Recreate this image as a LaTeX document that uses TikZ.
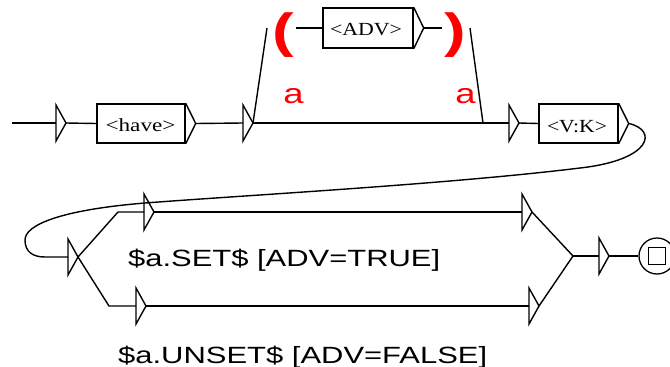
\documentclass[tikz,border=0pt]{standalone}
\usepackage{fontspec}
\usepackage{graphicx}
\newfontfamily\gserif{Liberation Serif}
\newfontfamily\gsans{Liberation Sans}
\tikzset{
  gline/.style={line width=1.4pt, draw=black, line join=miter},
  gbox/.style={draw=black, line width=1.4pt, inner sep=0pt, minimum height=39pt},
  btxt/.style={inner sep=0pt, anchor=base, font=\gserif\fontsize{18.5}{20}\selectfont},
  redtxt/.style={text=red, inner sep=0pt, anchor=base},
  sanslbl/.style={inner sep=0pt, anchor=base west, font=\gsans\fontsize{23.5}{26}\selectfont}
}
\newcommand\gtri[3]{%
  \draw[gline] (#2,#3-18) -- (#2+10,#3) -- (#2,#3+18) -- cycle;
  \coordinate (#1i) at (#2,#3);
  \coordinate (#1o) at (#2+10,#3);}
\newcommand\boxtri[1]{%
  \draw[gline] (#1.north east) -- ([xshift=10pt]#1.east) -- (#1.south east);
  \coordinate (#1o) at ([xshift=10pt]#1.east);}
\begin{document}
\begin{tikzpicture}[x=1pt,y=-1pt]
\useasboundingbox (0,0) rectangle (670,367);

% first row
\coordinate (start) at (12,123);
\gtri{t0}{56}{123}
\node[gbox, minimum width=88pt] (have) at (141,123.5) {};
\node[btxt] (havetxt) at (140.5,131.5) {\resizebox{70pt}{\height}{<have>}};
\boxtri{have}
\gtri{t1}{243}{123}
\coordinate (r1) at (483,123);
\gtri{t2}{509}{123}
\node[gbox, minimum width=79pt] (vk) at (578.5,123.5) {};
\node[btxt] (vktxt) at (577,132.5) {\resizebox{60pt}{\height}{<V:K>}};
\boxtri{vk}

% morphological/variable part
\coordinate (lp) at (267,28);
\coordinate (rp) at (470,28);
\node[redtxt, font=\gsans\bfseries\fontsize{48}{50}\selectfont] (lpar) at (283.5,47) {\scalebox{1.35}[1]{(}};
\node[redtxt, font=\gsans\bfseries\fontsize{48}{50}\selectfont] (rpar) at (455.5,47) {\scalebox{1.35}[1]{)}};
\coordinate (advin) at (296,28);
\node[gbox, minimum width=90pt, minimum height=40pt] (adv) at (368,28) {};
\node[btxt] (advtxt) at (366,35.5) {\resizebox{72pt}{\height}{<ADV>}};
\boxtri{adv}
\coordinate (advend) at (442,28);
\node[redtxt, font=\gsans\fontsize{28}{30}\selectfont] (a1) at (293.5,103) {\scalebox{1.3}[1]{a}};
\node[redtxt, font=\gsans\fontsize{28}{30}\selectfont] (a2) at (465.5,103) {\scalebox{1.3}[1]{a}};

% second row
\gtri{t3}{68}{257}
\coordinate (up) at (118,212);
\coordinate (dn) at (109,306);
\gtri{t4}{144}{212}
\gtri{t5}{522}{212}
\gtri{t6}{136}{306}
\gtri{t7}{529}{306}
\coordinate (join) at (573,256);
\gtri{t8}{599}{256}
\node[circle, draw=black, line width=1.3pt, minimum size=36pt, inner sep=0pt] (fin) at (657,256) {};
\node[draw=black, line width=1.3pt, minimum size=17pt, inner sep=0pt] (finsq) at (fin.center) {};

\node[sanslbl] (settxt) at (128,266) {\resizebox{312pt}{\height}{\$a.SET\$ [ADV=TRUE]}};
\node[sanslbl] (unsettxt) at (118,363) {\resizebox{369pt}{\height}{\$a.UNSET\$ [ADV=FALSE]}};

% connectors
\draw[gline] (start) -- (t0i);
\draw[gline] (t0o) -- (have.west);
\draw[gline] (haveo) -- (t1i);
\draw[gline] (t1o) -- (r1) -- (t2i);
\draw[gline] (t1o) -- (lp);
\draw[gline] (r1) -- (rp);
\draw[gline] (advin) -- (adv.west);
\draw[gline] (advo) -- (advend);
\draw[gline] (t2o) -- (vk.west);
\draw[gline] (vko) .. controls (658,130) and (652,160) .. (580,168)
   .. controls (450,184) and (250,195) .. (145,203)
   .. controls (60,210) and (25,225) .. (25,240)
   .. controls (25,252) and (33,257) .. (45,257) -- (t3i);
\draw[gline] (t3o) -- (up) -- (t4i);
\draw[gline] (t4o) -- (t5i);
\draw[gline] (t3o) -- (dn) -- (t6i);
\draw[gline] (t6o) -- (t7i);
\draw[gline] (t5o) -- (join);
\draw[gline] (t7o) -- (join);
\draw[gline] (join) -- (t8i);
\draw[gline] (t8o) -- (fin.west);
\end{tikzpicture}
\end{document}
